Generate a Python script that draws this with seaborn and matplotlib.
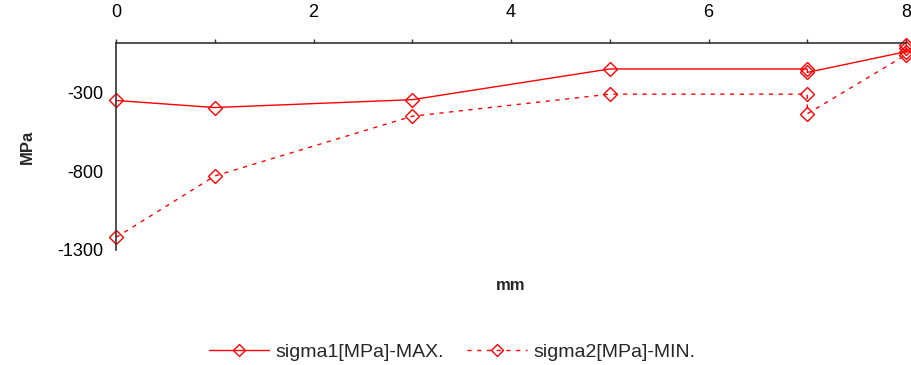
import pandas as pd
import seaborn as sns
import matplotlib.pyplot as plt

# distance from surface (mm) and stress values
mm = [0, 1, 3, 5, 7, 7, 8, 8]
sigma1 = [-350, -395, -345, -150, -150, -172, -40, 5]
sigma2 = [-1220, -830, -450, -310, -310, -435, -60, -15]
labels = ['sigma1[MPa]-MAX.', 'sigma2[MPa]-MIN.']

sns.set_style('white')
plt.rcParams['font.family'] = ['Liberation Sans', 'DejaVu Sans']
plt.rcParams['axes.unicode_minus'] = False

df = pd.DataFrame({'mm': mm, labels[0]: sigma1, labels[1]: sigma2})

fig = plt.figure(figsize=(9.11, 3.65), dpi=100)
ax = fig.add_axes([116 / 911, 1 - 250 / 365, 790 / 911, 207 / 365])

common = dict(
    x='mm', estimator=None, sort=False, color='red', marker='D',
    markersize=7, markerfacecolor='none', markeredgecolor='red',
    markeredgewidth=1.0, linewidth=1.0, clip_on=False, ax=ax,
)
sns.lineplot(data=df, y=labels[0], linestyle='-', label=labels[0], **common)
sns.lineplot(data=df, y=labels[1], linestyle=(0, (3, 4)), label=labels[1], **common)

ax.set_xlim(0, 8)
ax.set_ylim(-1300, 15)
ax.xaxis.tick_top()
ax.set_xticks([0, 2, 4, 6, 8])
ax.set_xticks([1, 3, 5, 7], minor=True)
ax.set_yticks([-300, -800, -1300])
ax.tick_params(axis='x', which='both', direction='out', length=3, width=1,
               pad=13, labelsize=13, colors='#333333', labelcolor='black')
ax.tick_params(axis='y', direction='out', length=6, width=1, pad=3,
               labelsize=13, colors='#333333', labelcolor='black')

for side in ('right', 'bottom'):
    ax.spines[side].set_visible(False)
for side in ('left', 'top'):
    ax.spines[side].set_color('#333333')
    ax.spines[side].set_linewidth(1.2)

ax.xaxis.set_label_position('bottom')
ax.set_xlabel('mm', fontsize=12, fontweight='bold', labelpad=20)
ax.set_ylabel('MPa', fontsize=12, fontweight='bold', labelpad=16)

ax.get_legend().remove()
handles, lbls = ax.get_legend_handles_labels()
fig.legend(handles, lbls, loc='center', bbox_to_anchor=(452 / 911, 1 - 352 / 365),
           ncol=2, frameon=False, fontsize=14, handlelength=3.1,
           columnspacing=1.2, handletextpad=0.3, markerscale=0.85)

plt.savefig('out.png', dpi=100)
